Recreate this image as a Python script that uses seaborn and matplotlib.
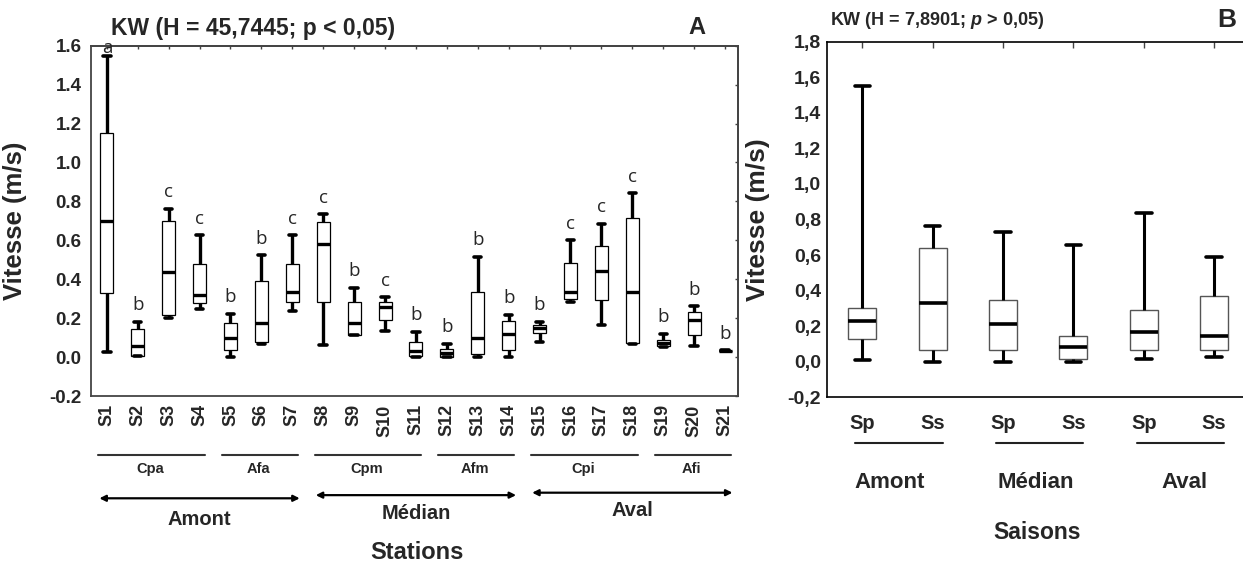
import numpy as np
import pandas as pd
import matplotlib
matplotlib.use("Agg")
import matplotlib.pyplot as plt
import matplotlib.transforms as mtransforms
from matplotlib.ticker import FixedLocator, FuncFormatter
import seaborn as sns

# ---------------------------------------------------------------------------
# Panel A: current velocity per station (m/s) - whisker low, Q1, median, Q3, whisker high
stations = [f"S{i}" for i in range(1, 22)]
st_min = [0.025, 0.005, 0.200, 0.245, 0.000, 0.068, 0.235, 0.060, 0.112, 0.135, 0.000,
          0.000, 0.000, 0.000, 0.077, 0.283, 0.166, 0.068, 0.053, 0.055, 0.029]
st_q1 = [0.330, 0.007, 0.215, 0.278, 0.038, 0.075, 0.285, 0.283, 0.115, 0.192, 0.007,
         0.003, 0.015, 0.038, 0.124, 0.299, 0.295, 0.072, 0.055, 0.115, 0.030]
st_med = [0.700, 0.058, 0.435, 0.320, 0.098, 0.175, 0.337, 0.582, 0.175, 0.256, 0.032,
          0.021, 0.098, 0.118, 0.149, 0.333, 0.441, 0.335, 0.072, 0.192, 0.032]
st_q3 = [1.150, 0.145, 0.700, 0.480, 0.175, 0.393, 0.480, 0.694, 0.283, 0.283, 0.080,
         0.043, 0.335, 0.184, 0.165, 0.481, 0.570, 0.713, 0.089, 0.232, 0.033]
st_max = [1.545, 0.182, 0.762, 0.625, 0.222, 0.522, 0.625, 0.733, 0.357, 0.307, 0.129,
          0.069, 0.515, 0.218, 0.180, 0.600, 0.686, 0.842, 0.118, 0.261, 0.034]
st_letters = ["a", "b", "c", "c", "b", "b", "c", "c", "b", "c", "b",
              "b", "b", "b", "b", "c", "c", "c", "b", "b", "b"]

# station groups (first index, last index) and river sections
st_groups = ["Cpa", "Afa", "Cpm", "Afm", "Cpi", "Afi"]
st_group_span = [(0, 3), (4, 6), (7, 10), (11, 13), (14, 17), (18, 20)]
sections = ["Amont", "Médian", "Aval"]
st_section_span = [(0, 6), (7, 13), (14, 20)]

title_a = "KW (H = 45,7445; p < 0,05)"
yticks_a = [-0.2, 0.0, 0.2, 0.4, 0.6, 0.8, 1.0, 1.2, 1.4, 1.6]

# ---------------------------------------------------------------------------
# Panel B: velocity per season within each section
season_keys = ["Amont-Sp", "Amont-Ss", "Médian-Sp", "Médian-Ss", "Aval-Sp", "Aval-Ss"]
season_labels = ["Sp", "Ss", "Sp", "Ss", "Sp", "Ss"]
se_min = [0.008, 0.000, 0.000, 0.000, 0.018, 0.027]
se_q1 = [0.128, 0.065, 0.065, 0.018, 0.065, 0.065]
se_med = [0.230, 0.333, 0.213, 0.082, 0.168, 0.145]
se_q3 = [0.303, 0.637, 0.350, 0.145, 0.293, 0.370]
se_max = [1.549, 0.764, 0.727, 0.655, 0.839, 0.590]
se_section_span = [(0, 1), (2, 3), (4, 5)]

title_b = r"KW (H = 7,8901; $\mathit{p}$ > 0,05)"
yticks_b = [-0.2, 0.0, 0.2, 0.4, 0.6, 0.8, 1.0, 1.2, 1.4, 1.6, 1.8]


def long_table(labels, *cols):
    """Five summary values per category -> long table; quartiles of five
    points fall exactly on the 2nd/3rd/4th values."""
    rows = [(lab, col[i]) for i, lab in enumerate(labels) for col in cols]
    return pd.DataFrame(rows, columns=["cat", "v"])


sns.set_style("white")
plt.rcParams["font.family"] = ["Liberation Sans", "DejaVu Sans"]
plt.rcParams["font.weight"] = "bold"
plt.rcParams["mathtext.fontset"] = "custom"
plt.rcParams["mathtext.it"] = "Liberation Sans:italic:bold"
plt.rcParams["mathtext.rm"] = "Liberation Sans:bold"

fig = plt.figure(figsize=(12.43, 5.65), dpi=100)
ax_a = fig.add_axes([0.0730, 0.2991, 0.5210, 0.6200])
ax_b = fig.add_axes([0.6651, 0.2968, 0.3349, 0.6294])

# ------------------------------- panel A ----------------------------------
df_a = long_table(stations, st_min, st_q1, st_med, st_q3, st_max)
sns.boxplot(data=df_a, x="cat", y="v", order=stations, ax=ax_a,
            color="white", linecolor="black", linewidth=0.9, width=0.42,
            whis=(0, 100), showfliers=False, capwidths=0.24,
            whiskerprops=dict(linewidth=2.4), capprops=dict(linewidth=2.6),
            medianprops=dict(linewidth=2.4))

ax_a.set_xlim(-0.52, 20.43)
ax_a.set_ylim(-0.2, 1.6)
ax_a.yaxis.set_major_locator(FixedLocator(yticks_a))
ax_a.yaxis.set_major_formatter(FuncFormatter(lambda v, p: f"{v:.1f}"))
ax_a.set_xticks(range(len(stations)))
ax_a.set_xticklabels(stations, rotation=90, fontsize=13, fontweight="bold")
ax_a.tick_params(axis="x", direction="out", length=3, width=1, pad=3, color="#444444")
ax_a.tick_params(axis="y", direction="out", length=4, width=1, pad=2.5,
                 labelsize=13.5, color="#444444")
for lab in ax_a.get_yticklabels():
    lab.set_fontweight("bold")
for s in ax_a.spines.values():
    s.set_visible(True)
    s.set_color("#444444")
    s.set_linewidth(1.3)
ax_a.set_xlabel("")
ax_a.set_ylabel("Vitesse (m/s)", fontsize=18.5, fontweight="bold")
ax_a.yaxis.set_label_coords(-0.098, 0.5)

top_a = ax_a.secondary_xaxis("top")
top_a.set_xticks(range(len(stations)))
top_a.tick_params(direction="in", length=2.5, width=1, labeltop=False, color="#444444")
right_a = ax_a.secondary_yaxis("right")
right_a.yaxis.set_major_locator(FixedLocator(yticks_a))
right_a.tick_params(direction="in", length=2.5, width=1, labelright=False, color="#444444")
for sec in (top_a, right_a):
    for s in sec.spines.values():
        s.set_color("#444444")
        s.set_linewidth(1.3)

# significance letters above each station
for i, (mx, let) in enumerate(zip(st_max, st_letters)):
    ax_a.text(i, min(mx + 0.06, 1.565), let, ha="center", va="baseline",
              fontsize=13.5, fontweight="normal", family=["Open Sans", "DejaVu Sans"],
              clip_on=False)

ax_a.text(0.25, 1.048, title_a, transform=ax_a.transAxes, ha="center", va="center",
          fontsize=16.5, fontweight="bold")
ax_a.text(0.936, 1.053, "A", transform=ax_a.transAxes, ha="center", va="center",
          fontsize=17, fontweight="bold")

blend_a = mtransforms.blended_transform_factory(ax_a.transData, ax_a.transAxes)
for name, (i0, i1) in zip(st_groups, st_group_span):
    ax_a.plot([i0 - 0.27, i1 + 0.18], [-0.168, -0.168], transform=blend_a,
              color="#333333", lw=1.5, clip_on=False)
    ax_a.text((i0 + i1) / 2 - 0.1, -0.208, name, transform=blend_a, ha="center",
              va="center", fontsize=10.5, fontweight="bold")
for name, (i0, i1), ay, ty in zip(sections, st_section_span,
                                  [-0.292, -0.283, -0.276], [-0.352, -0.335, -0.326]):
    ax_a.annotate("", xy=(i1 + 0.24, ay), xytext=(i0 - 0.24, ay),
                  xycoords=blend_a, textcoords=blend_a,
                  arrowprops=dict(arrowstyle="<|-|>", lw=1.6, color="black",
                                  mutation_scale=9, shrinkA=0, shrinkB=0))
    ax_a.text((i0 + i1) / 2, ty, name, transform=blend_a, ha="center",
              va="center", fontsize=14.5, fontweight="bold")
ax_a.text(0.503, -0.447, "Stations", transform=ax_a.transAxes, ha="center",
          va="center", fontsize=17, fontweight="bold")

# ------------------------------- panel B ----------------------------------
df_b = long_table(season_keys, se_min, se_q1, se_med, se_q3, se_max)
sns.boxplot(data=df_b, x="cat", y="v", order=season_keys, ax=ax_b,
            color="white", linecolor="black", linewidth=1.0, width=0.40,
            whis=(0, 100), showfliers=False, capwidths=0.22,
            whiskerprops=dict(linewidth=2.2), capprops=dict(linewidth=2.6),
            medianprops=dict(linewidth=2.6),
            boxprops=dict(edgecolor="#555555"))

ax_b.set_xlim(-0.506, 5.41)
ax_b.set_ylim(-0.2, 1.8)
ax_b.yaxis.set_major_locator(FixedLocator(yticks_b))
ax_b.yaxis.set_major_formatter(FuncFormatter(lambda v, p: f"{v:.1f}".replace(".", ",")))
ax_b.set_xticks(range(len(season_keys)))
ax_b.set_xticklabels(season_labels, fontsize=14.5, fontweight="bold")
ax_b.tick_params(axis="x", direction="in", length=4, width=1, pad=12, top=True,
                 color="#444444")
ax_b.tick_params(axis="y", direction="in", length=3.5, width=1, pad=4, labelsize=14,
                 color="#444444")
for lab in ax_b.get_yticklabels():
    lab.set_fontweight("bold")
for side in ("left", "top", "bottom"):
    ax_b.spines[side].set_visible(True)
    ax_b.spines[side].set_color("black")
    ax_b.spines[side].set_linewidth(1.2)
ax_b.spines["right"].set_visible(False)
ax_b.set_xlabel("")
ax_b.set_ylabel("Vitesse (m/s)", fontsize=19, fontweight="bold")
ax_b.yaxis.set_label_coords(-0.136, 0.5)

ax_b.text(0.264, 1.061, title_b, transform=ax_b.transAxes, ha="center", va="center",
          fontsize=13, fontweight="bold")
ax_b.text(0.961, 1.061, "B", transform=ax_b.transAxes, ha="center", va="center",
          fontsize=19, fontweight="bold")

blend_b = mtransforms.blended_transform_factory(ax_b.transData, ax_b.transAxes)
for name, (i0, i1), dx in zip(sections, se_section_span, [-0.11, -0.03, 0.08]):
    ax_b.plot([i0 - 0.1, i1 + 0.14], [-0.128, -0.128], transform=blend_b,
              color="#222222", lw=1.5, clip_on=False)
    ax_b.text((i0 + i1) / 2 + dx, -0.24, name, transform=blend_b, ha="center",
              va="center", fontsize=16, fontweight="bold")
ax_b.text(2.49, -0.379, "Saisons", transform=blend_b, ha="center", va="center",
          fontsize=16.5, fontweight="bold")

fig.savefig("out.png", dpi=100, facecolor="white")
